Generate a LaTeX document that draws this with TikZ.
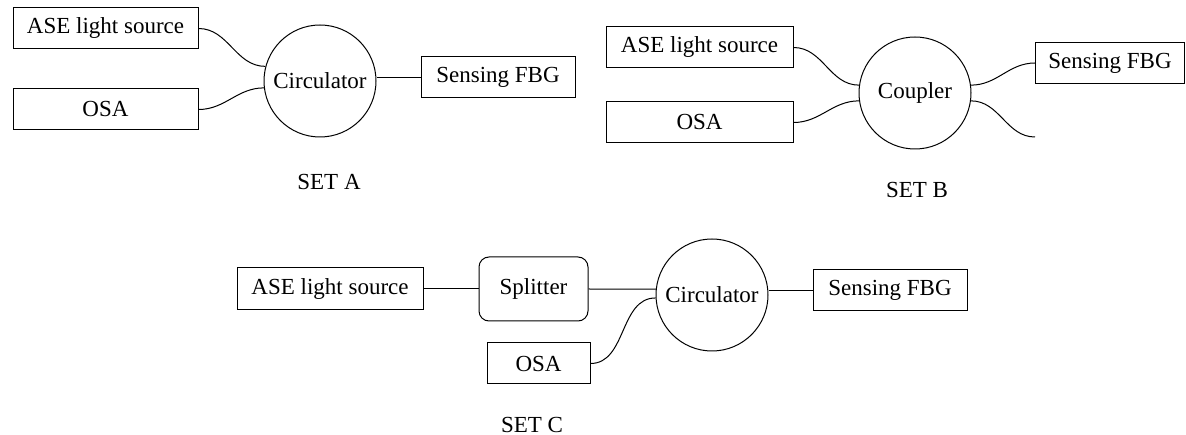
\documentclass[tikz,border=0pt]{standalone}
\usepackage{fontspec}
\setmainfont{Liberation Serif}
\newfontfamily\tnr{Liberation Serif}
\begin{document}
\begin{tikzpicture}[x=1pt,y=-1pt,
  txt/.style={font=\tnr\fontsize{23}{27}\selectfont},
  box/.style={txt, draw, line width=1pt, minimum height=41pt, inner sep=0pt},
  roundbox/.style={box, rounded corners=10pt},
  ring/.style={txt, draw, circle, line width=1pt, minimum size=112pt, inner sep=0pt},
  lbl/.style={txt, anchor=base},
  wire/.style={line width=1pt}]
\useasboundingbox (0,0) rectangle (1186,435);
% SET A
\node[box, minimum width=185pt] (aase) at (105.5,28.5) {ASE light source};
\node[box, minimum width=185pt] (aosa) at (105.5,109.5) {OSA};
\node[ring] (acirc) at (320,81) {Circulator};
\node[box, minimum width=154pt] (afbg) at (498,77.5) {Sensing FBG};
\draw[wire] (aase.east) to[out=0,in=180] (acirc.165);
\draw[wire] (aosa.east) to[out=0,in=180] (acirc.187);
\draw[wire] (afbg.west) -- (afbg.west -| acirc.east);
\node[lbl] (alab) at (329,190) {SET A};
% SET B
\node[box, minimum width=187pt] (base) at (699.5,47.5) {ASE light source};
\node[box, minimum width=187pt] (bosa) at (699.5,122.5) {OSA};
\node[ring] (bcoup) at (915,93) {Coupler};
\node[box, minimum width=149pt] (bfbg) at (1110,63) {Sensing FBG};
\coordinate (bfree) at (1035,137);
\draw[wire] (base.east) to[out=0,in=180] (bcoup.172);
\draw[wire] (bosa.east) to[out=0,in=180] (bcoup.188);
\draw[wire] (bcoup.8) to[out=0,in=180] (bfbg.west);
\draw[wire] (bcoup.352) to[out=0,in=180] (bfree);
\node[lbl] (blab) at (917,198) {SET B};
% SET C
\node[box, minimum width=186pt, minimum height=42pt] (case) at (330,289) {ASE light source};
\node[roundbox, minimum width=109pt, minimum height=64pt] (csplit) at (533.5,289) {Splitter};
\node[ring] (ccirc) at (712,295) {Circulator};
\node[box, minimum width=154pt] (cfbg) at (890,290.5) {Sensing FBG};
\node[box, minimum width=103pt] (cosa) at (538.5,363.5) {OSA};
\draw[wire] (case.east) -- (csplit.west);
\draw[wire] (csplit.east) -- (ccirc.174);
\draw[wire] (cfbg.west) -- (cfbg.west -| ccirc.east);
\draw[wire] (cosa.east) to[out=0,in=180] (ccirc.183);
\node[lbl] (clab) at (532,432) {SET C};
\end{tikzpicture}
\end{document}
